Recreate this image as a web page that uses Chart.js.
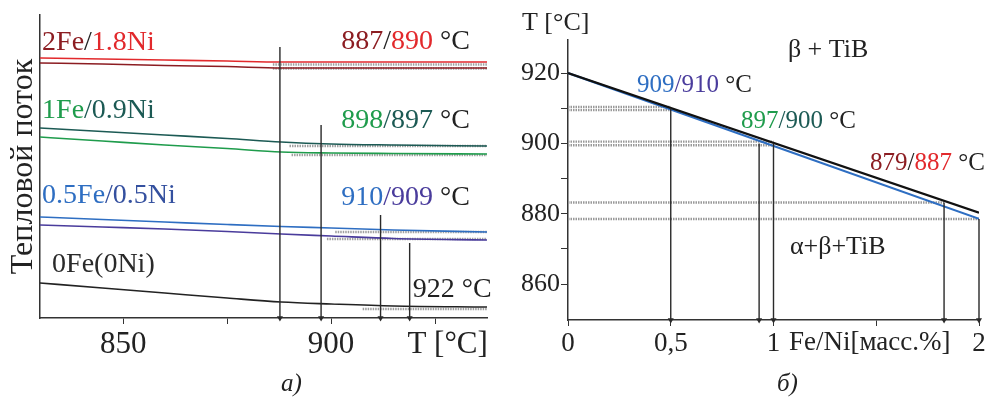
<!DOCTYPE html>
<html>
<head>
<meta charset="utf-8">
<script src="https://cdn.jsdelivr.net/npm/chart.js@4.4.0/dist/chart.umd.min.js"></script>
<style>
body { margin: 0; background: #fff; }
#wrap { position: relative; width: 999px; height: 405px; }
.panel { position: absolute; top: 0; height: 405px; }
.cap { position: absolute; top: 369px; font: italic 25px 'Liberation Serif'; color: #222; }
</style>
</head>
<body>
<div id="wrap">
  <div class="panel" style="left:0;width:500px"><canvas id="chartA"></canvas></div>
  <div class="panel" style="left:500px;width:499px"><canvas id="chartB"></canvas></div>
  <div class="cap" style="left:281px">а)</div>
  <div class="cap" style="left:777px">б)</div>
</div>
<script>
// --- panel а : heat flow curves (arbitrary units) ---
const tempA = [830, 845, 860, 875, 888, 900, 915, 937.5];
const flow18Ni = [260, 259, 258, 257, 256, 256, 256, 256];
const flow2Fe = [255, 254, 252.5, 251.5, 250, 250, 250, 250];
const flow09Ni = [190, 186.5, 183, 179.5, 176, 174, 173, 172];
const flow1Fe = [181, 177, 173, 169.5, 166, 165, 164.5, 164];
const flow05Fe = [101, 98.5, 96, 93.5, 91.5, 90, 88, 86];
const flow05Ni = [93, 91, 89, 86.5, 84, 82, 79.5, 78];
const flow0Fe = [35, 30, 25, 20, 16, 14, 12, 11];

// baselines (gray) start temperature and level
const baseStartA = [886, 886, 890, 890.5, 901, 899, 907.6];
const baseLevelA = [253.5, 249.5, 172, 163, 86, 79, 9];

// onset arrows
const onsetA = [887.7, 897.6, 911.9, 918.9];
const onsetTopA = [271, 193, 103, 75];

const ticksA = [850, 875, 900, 925];

// --- panel б : T vs Fe/Ni ---
const feNi = [0, 2];
const tBlack = [920, 880.3];
const tBlue = [920, 878.6];
const levelB = [910.4, 909.5, 900.5, 899.5, 883.2, 878.5];
const levelEndB = [0.5, 0.5, 1, 1, 1.83, 2];
const dropX = [0.5, 0.93, 1, 1.83, 2];
const dropTop = [910, 900, 900, 883.2, 878.5];

const ticksBx = [0, 0.5, 1, 1.5, 2];
const labelsBx = ['0', '0,5', '1', '', '2'];
const ticksBy = [860, 870, 880, 890, 900, 910, 920];

const C = {
    red: '#e2292c', darkRed: '#8c1d22', green: '#1f9c4c', teal: '#1c5a54',
    blue: '#2e6ec2', purple: '#4a3c9c', black: '#222', gray: '#a0a0a0'
};
const SERIF = "'Liberation Serif', 'DejaVu Serif', serif";

// draws multi-coloured text at data coordinates
const notes = {
    id: 'notes',
    afterDatasetsDraw(chart, args, opts) {
        const ctx = chart.ctx, sx = chart.scales.x, sy = chart.scales.y;
        ctx.save();
        ctx.textBaseline = 'alphabetic';
        opts.items.forEach(n => {
            ctx.font = n.font || opts.font;
            let px = sx.getPixelForValue(n.x);
            const py = sy.getPixelForValue(n.y);
            const w = n.parts.reduce((s, p) => s + ctx.measureText(p[0]).width, 0);
            if (n.align === 'right') px -= w;
            n.parts.forEach(([t, c]) => {
                ctx.fillStyle = c;
                ctx.fillText(t, px, py);
                px += ctx.measureText(t).width;
            });
        });
        ctx.restore();
    }
};

function curve(xs, ys, color, w) {
    return {
        data: xs.map((x, i) => ({x: x, y: ys[i]})),
        borderColor: color, borderWidth: w || 1.6,
        pointRadius: 0, cubicInterpolationMode: 'monotone', order: 1
    };
}
function seg(x0, x1, y, color) {
    return {
        data: [{x: x0, y: y}, {x: x1, y: y}],
        borderColor: color || C.gray, borderWidth: 2.4, borderDash: [1.5, 1],
        pointRadius: 0, order: 5
    };
}
function arrow(x, top, bottom) {
    return {
        data: [{x: x, y: top}, {x: x, y: bottom}],
        borderColor: '#2a2a2a', borderWidth: 1.4,
        pointRadius: [0, 3.5], pointStyle: 'triangle', pointRotation: 180,
        pointBackgroundColor: '#2a2a2a', pointBorderWidth: 0, clip: false, order: 0
    };
}

const datasetsA = [
    curve(tempA, flow18Ni, C.red),
    curve(tempA, flow2Fe, C.darkRed),
    curve(tempA, flow09Ni, C.teal),
    curve(tempA, flow1Fe, C.green),
    curve(tempA, flow05Fe, C.blue),
    curve(tempA, flow05Ni, C.purple),
    curve(tempA, flow0Fe, C.black)
];
baseStartA.forEach((t, i) => datasetsA.push(seg(t, tempA[tempA.length - 1], baseLevelA[i])));
onsetA.forEach((t, i) => datasetsA.push(arrow(t, onsetTopA[i], 0)));

new Chart(document.getElementById('chartA'), {
    type: 'line',
    data: {datasets: datasetsA},
    plugins: [notes],
    options: {
        responsive: true, maintainAspectRatio: false, animation: false,
        layout: {padding: {top: 15, right: 13, left: 0, bottom: 0}},
        plugins: {
            legend: {display: false}, tooltip: {enabled: false},
            notes: {
                font: '28px ' + SERIF,
                items: [
                    {x: 830.5, y: 268, parts: [['2Fe', C.darkRed], ['/', C.black], ['1.8Ni', C.red]]},
                    {x: 933.4, y: 269, align: 'right', parts: [['887', C.darkRed], ['/', C.black], ['890', C.red], [' °C', C.black]]},
                    {x: 830.5, y: 200, parts: [['1Fe', C.green], ['/0.9Ni', C.teal]]},
                    {x: 933.4, y: 190, align: 'right', parts: [['898', C.green], ['/897', C.teal], [' °C', C.black]]},
                    {x: 830.5, y: 115, parts: [['0.5Fe', C.blue], ['/0.5Ni', '#34509f']]},
                    {x: 933.4, y: 113, align: 'right', parts: [['910', C.blue], ['/909', C.purple], [' °C', C.black]]},
                    {x: 832.9, y: 46, parts: [['0Fe(0Ni)', '#2a2a2a']]},
                    {x: 938.6, y: 21, align: 'right', parts: [['922 °C', C.black]]},
                    {x: 937.7, y: -35, align: 'right', font: '31px ' + SERIF, parts: [['T [°C]', C.black]]}
                ]
            }
        },
        scales: {
            x: {
                type: 'linear', min: 830, max: 937.5,
                afterBuildTicks: s => { s.ticks = ticksA.map(v => ({value: v})); },
                afterFit: s => { s.height = 87; },
                ticks: {
                    callback: v => (v % 50 === 0 ? String(v) : ''),
                    font: {family: SERIF, size: 31}, color: C.black,
                    maxRotation: 0, autoSkip: false, padding: 2
                },
                grid: {drawOnChartArea: false, drawTicks: true, tickLength: 6, color: '#333'},
                border: {color: '#333', width: 1.5}
            },
            y: {
                type: 'linear', min: 0, max: 303,
                afterFit: s => { s.width = 40; },
                ticks: {display: false},
                grid: {drawOnChartArea: false, drawTicks: false},
                border: {color: '#333', width: 1.5},
                title: {display: true, text: 'Тепловой поток', color: C.black,
                        font: {family: SERIF, size: 32}, padding: {top: 4, bottom: 0}}
            }
        }
    }
});

const datasetsB = [
    curve(feNi, tBlack, '#111', 2.3),
    curve(feNi, tBlue, C.blue, 2)
];
levelB.forEach((v, i) => datasetsB.push(seg(0, levelEndB[i], v, '#999')));
dropX.forEach((x, i) => datasetsB.push(arrow(x, dropTop[i], 849.8)));

new Chart(document.getElementById('chartB'), {
    type: 'line',
    data: {datasets: datasetsB},
    plugins: [notes],
    options: {
        responsive: true, maintainAspectRatio: false, animation: false,
        layout: {padding: {top: 40, right: 20, left: 0, bottom: 0}},
        plugins: {
            legend: {display: false}, tooltip: {enabled: false},
            notes: {
                font: '25px ' + SERIF,
                items: [
                    {x: -0.224, y: 932.2, font: '26px ' + SERIF, parts: [['T [°C]', C.black]]},
                    {x: 1.07, y: 924.5, font: '26px ' + SERIF, parts: [['β + TiB', C.black]]},
                    {x: 0.336, y: 914.6, parts: [['909', C.blue], ['/910', C.purple], [' °C', C.black]]},
                    {x: 0.842, y: 904.4, parts: [['897', C.green], ['/900', C.teal], [' °C', C.black]]},
                    {x: 1.47, y: 892.4, parts: [['879', C.darkRed], ['/', C.black], ['887', C.red], [' °C', C.black]]},
                    {x: 1.08, y: 868.6, font: '26px ' + SERIF, parts: [['α+β+TiB', C.black]]},
                    {x: 1.075, y: 841.3, font: '27px ' + SERIF, parts: [['Fe/Ni[масс.%]', C.black]]}
                ]
            }
        },
        scales: {
            x: {
                type: 'linear', min: 0, max: 2,
                afterBuildTicks: s => { s.ticks = ticksBx.map(v => ({value: v})); },
                afterFit: s => { s.height = 85; },
                ticks: {
                    callback: (v, i) => labelsBx[i],
                    font: {family: SERIF, size: 27}, color: C.black,
                    maxRotation: 0, autoSkip: false, padding: 2
                },
                grid: {drawOnChartArea: false, drawTicks: true, tickLength: 6, color: '#333'},
                border: {color: '#333', width: 1.5}
            },
            y: {
                type: 'linear', min: 849.8, max: 929.4,
                afterBuildTicks: s => { s.ticks = ticksBy.map(v => ({value: v})); },
                afterFit: s => { s.width = 68; },
                ticks: {
                    callback: v => (v % 20 === 0 ? String(v) : ''),
                    font: {family: SERIF, size: 26}, color: C.black, padding: 1
                },
                grid: {drawOnChartArea: false, drawTicks: true, tickLength: 7, color: '#333'},
                border: {color: '#333', width: 1.5}
            }
        }
    }
});
</script>
</body>
</html>
